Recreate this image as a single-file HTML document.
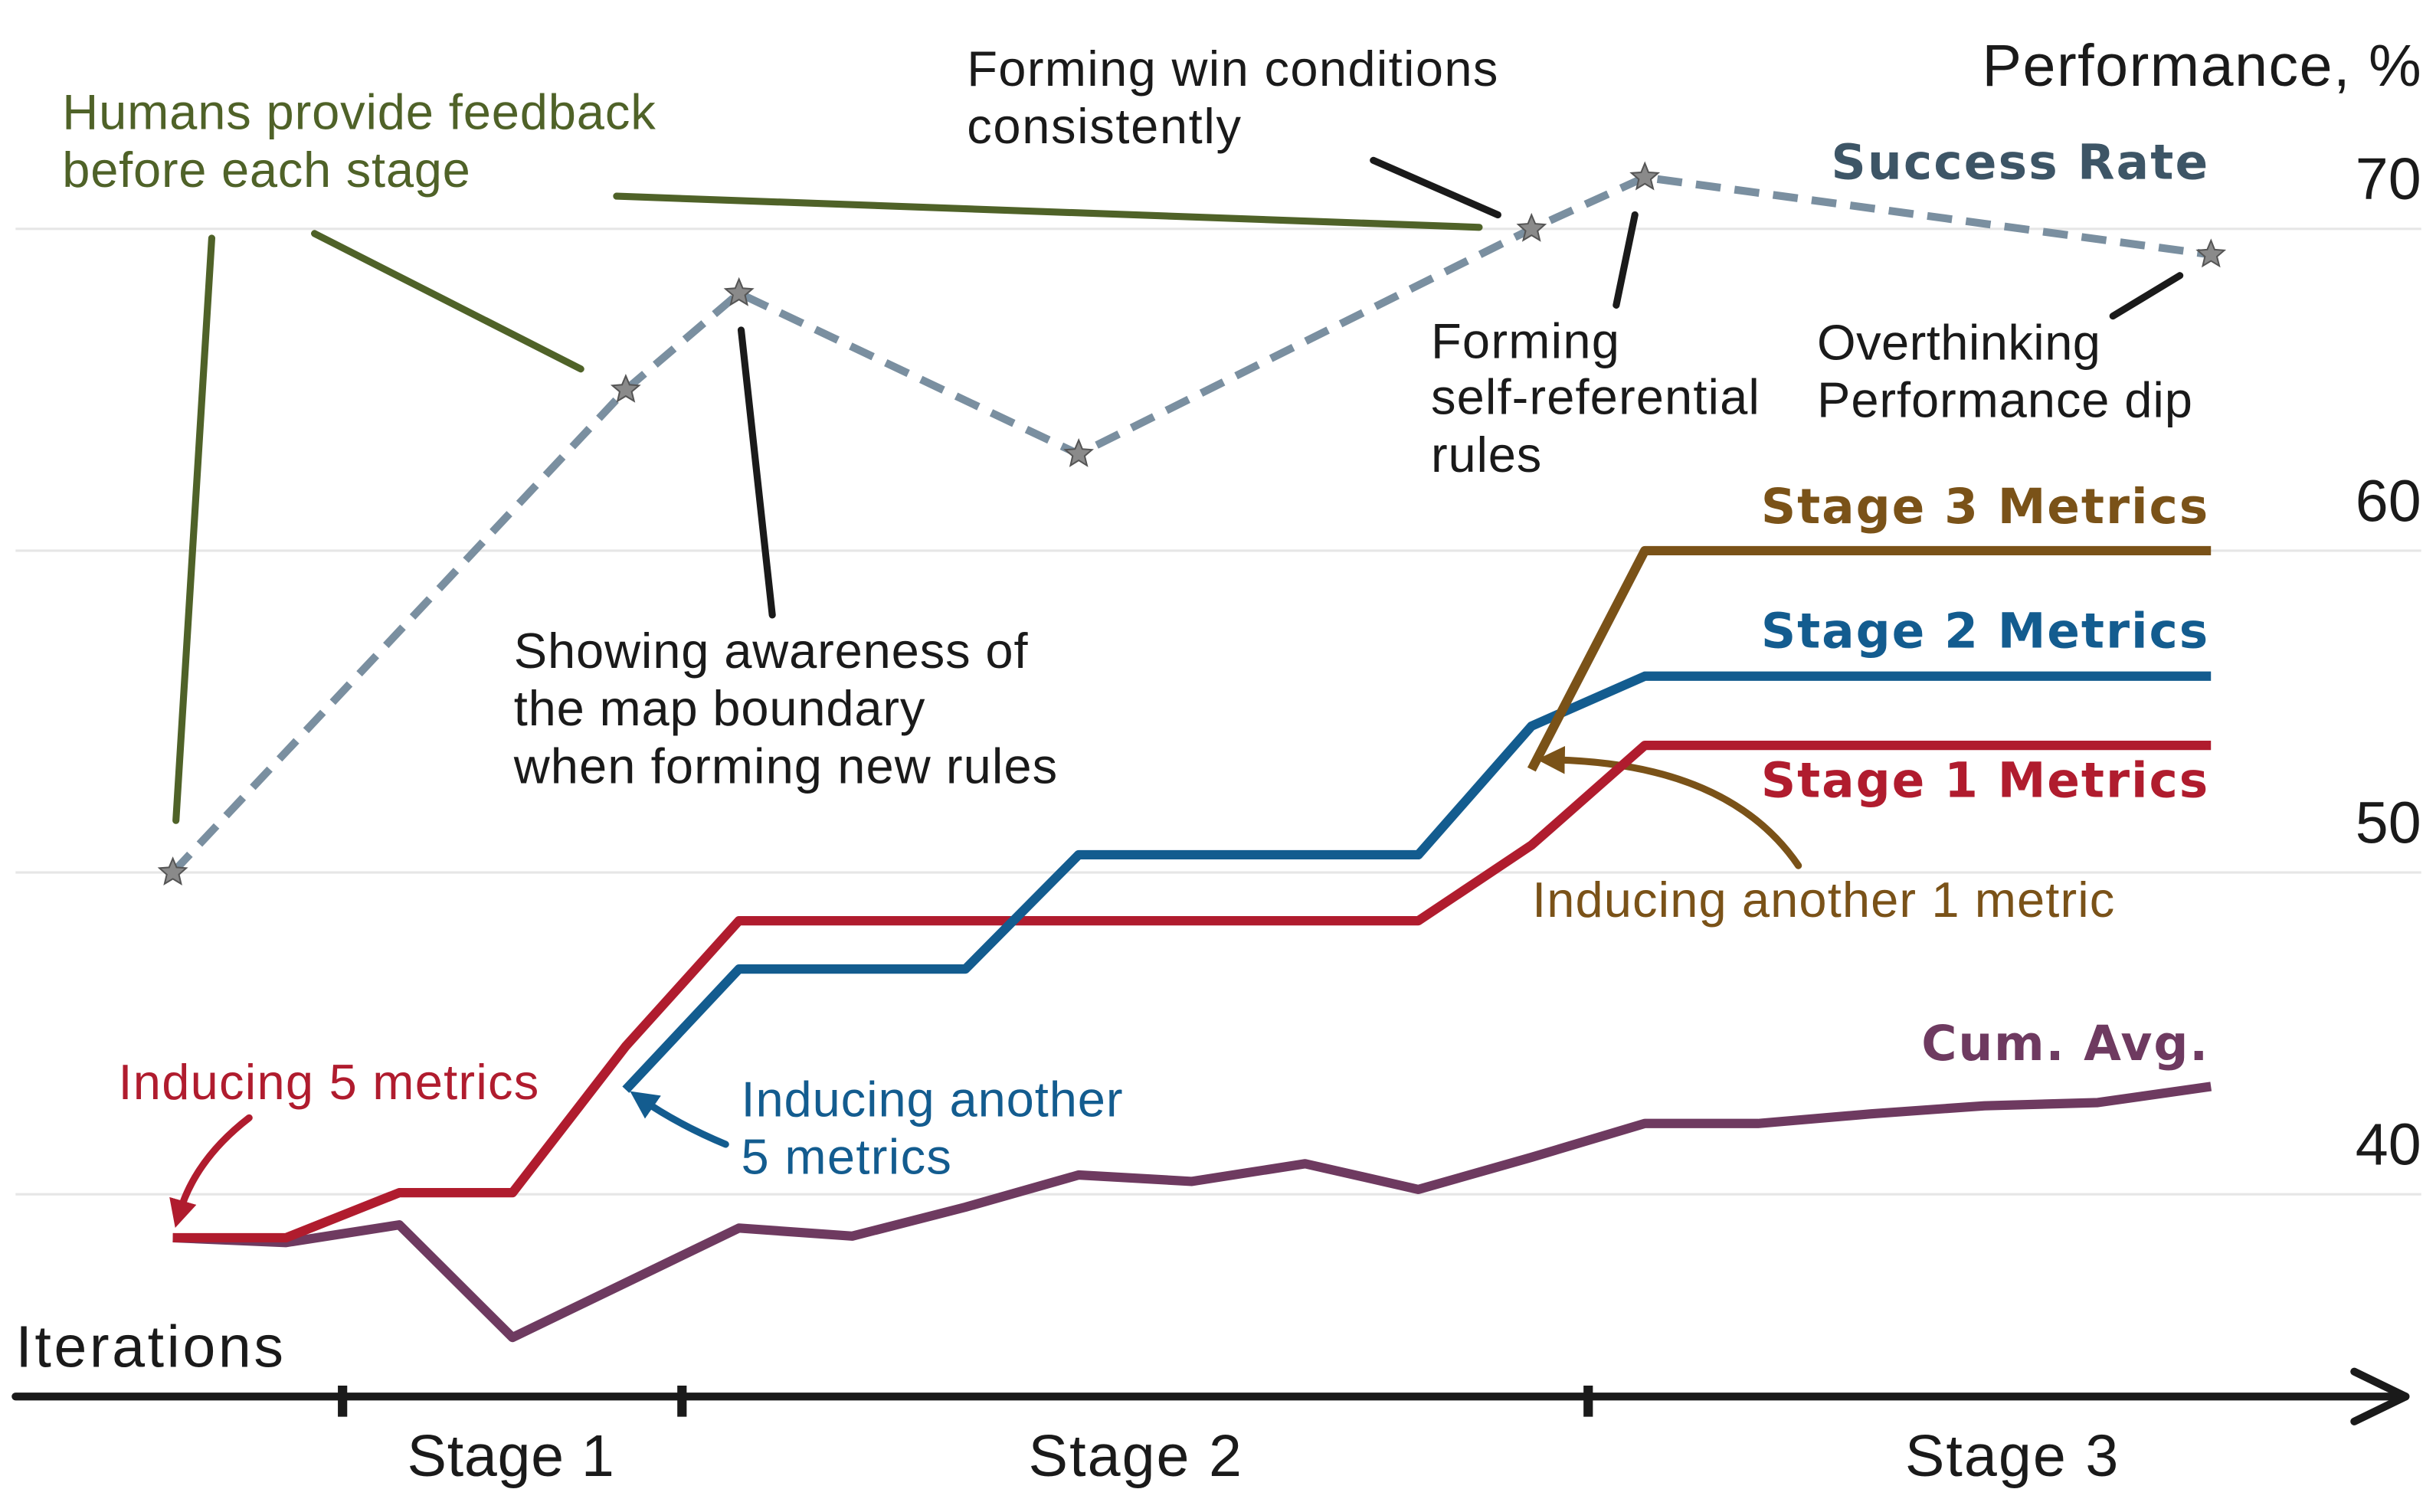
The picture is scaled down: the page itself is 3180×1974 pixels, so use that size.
<!DOCTYPE html>
<html><head><meta charset="utf-8">
<style>
html,body{margin:0;padding:0;background:#fff;}
svg{display:block;}
text{font-family:"Liberation Sans",sans-serif;}
.b{font-family:"DejaVu Sans","Liberation Sans",sans-serif;font-weight:bold;}
</style></head>
<body>
<svg id="chart" width="3180" height="1974" viewBox="0 0 3180 1974" xmlns="http://www.w3.org/2000/svg">
<defs>
<marker id="ar" viewBox="0 0 10 10" refX="5" refY="5" markerWidth="4" markerHeight="4" orient="auto-start-reverse"><path d="M0,0 L10,5 L0,10 z" fill="context-stroke"/></marker>
</defs>
<g id="root" transform="scale(2.0326)">
<g id="grid"></g>
<g id="yticks"></g>
<text x="1555" y="55" font-size="38" text-anchor="end" fill="#1a1a1a" textLength="282">Performance, %</text>
<text x="10" y="878" font-size="38" fill="#1a1a1a" textLength="172">Iterations</text>
<g>
<line x1="10" y1="897" x2="1545" y2="897" stroke="#1a1a1a" stroke-width="5" stroke-linecap="round"/>
<polyline points="1512,881 1545,897 1512,913" fill="none" stroke="#1a1a1a" stroke-width="5" stroke-linecap="round" stroke-linejoin="round"/>
<line x1="220" y1="890" x2="220" y2="910" stroke="#1a1a1a" stroke-width="6"/>
<line x1="438" y1="890" x2="438" y2="910" stroke="#1a1a1a" stroke-width="6"/>
<line x1="1020" y1="890" x2="1020" y2="910" stroke="#1a1a1a" stroke-width="6"/>
<text x="328" y="948" font-size="38" text-anchor="middle" fill="#1a1a1a" textLength="133">Stage 1</text>
<text x="729" y="948" font-size="38" text-anchor="middle" fill="#1a1a1a" textLength="137">Stage 2</text>
<text x="1292" y="948" font-size="38" text-anchor="middle" fill="#1a1a1a" textLength="137">Stage 3</text>
</g>
<g stroke-linecap="round">
<line x1="136" y1="153" x2="113" y2="527" stroke="#4f6228" stroke-width="4.5"/>
<line x1="202" y1="150" x2="373" y2="237" stroke="#4f6228" stroke-width="4.5"/>
<line x1="396" y1="126" x2="950" y2="146" stroke="#4f6228" stroke-width="4.5"/>
<line x1="476" y1="212" x2="496" y2="395" stroke="#1a1a1a" stroke-width="4.5"/>
<line x1="882" y1="103" x2="962" y2="138" stroke="#1a1a1a" stroke-width="4.5"/>
<line x1="1050" y1="138" x2="1038" y2="196" stroke="#1a1a1a" stroke-width="4.5"/>
<line x1="1357" y1="203" x2="1400" y2="177" stroke="#1a1a1a" stroke-width="4.5"/>
<path d="M160,718 Q125,745 115,780" fill="none" stroke="#b01c2e" stroke-width="4.5" marker-end="url(#ar)"/>
<path d="M466,735 Q435,722 412,706" fill="none" stroke="#135c8f" stroke-width="4.5" marker-end="url(#ar)"/>
<path d="M1155,556 Q1110,490 996,488" fill="none" stroke="#7a5218" stroke-width="4.5" marker-end="url(#ar)"/>
</g>
<g id="series"></g>
<g font-size="32">
<text x="40" y="83" fill="#4f6228" textLength="381">Humans provide feedback</text>
<text x="40" y="120" fill="#4f6228" textLength="262">before each stage</text>
<text x="621" y="55" fill="#1a1a1a" textLength="341">Forming win conditions</text>
<text x="621" y="92" fill="#1a1a1a" textLength="176">consistently</text>
<text x="919" y="230" fill="#1a1a1a" textLength="121">Forming</text>
<text x="919" y="266" fill="#1a1a1a" textLength="211">self-referential</text>
<text x="919" y="303" fill="#1a1a1a" textLength="71">rules</text>
<text x="1167" y="231" fill="#1a1a1a" textLength="182">Overthinking</text>
<text x="1167" y="268" fill="#1a1a1a" textLength="241">Performance dip</text>
<text x="330" y="429" fill="#1a1a1a" textLength="330">Showing awareness of</text>
<text x="330" y="466" fill="#1a1a1a" textLength="264">the map boundary</text>
<text x="330" y="503" fill="#1a1a1a" textLength="349">when forming new rules</text>
<text x="76" y="706" fill="#b01c2e" textLength="270">Inducing 5 metrics</text>
<text x="476" y="717" fill="#135c8f" textLength="245">Inducing another</text>
<text x="476" y="754" fill="#135c8f" textLength="135">5 metrics</text>
<text x="984" y="589" fill="#7a5218" textLength="374">Inducing another 1 metric</text>
</g>
<g font-size="31" text-anchor="end">
<text class="b" x="1418" y="115" fill="#3d5566" textLength="242">Success Rate</text>
<text class="b" x="1418" y="336" fill="#7a5218" textLength="287">Stage 3 Metrics</text>
<text class="b" x="1418" y="416" fill="#135c8f" textLength="287">Stage 2 Metrics</text>
<text class="b" x="1418" y="512" fill="#b01c2e" textLength="287">Stage 1 Metrics</text>
<text class="b" x="1418" y="681" fill="#6e3a60" textLength="184">Cum. Avg.</text>
</g>
</g>
</svg>
<script>
const yTicks = [40, 50, 60, 70];
const successIdx = [0, 4, 5, 8, 12, 13, 18];
const successVals = [50, 65, 68, 63, 70, 71.6, 69.2];
const stage1Idx = [0, 1, 2, 3, 4, 5, 11, 12, 13, 18];
const stage1Vals = [38.65, 38.65, 40.05, 40.05, 44.6, 48.5, 48.5, 50.85, 53.95, 53.95];
const stage2Idx = [4, 5, 7, 8, 11, 12, 13, 18];
const stage2Vals = [43.25, 47.0, 47.0, 50.55, 50.55, 54.55, 56.1, 56.1];
const stage3Idx = [12, 13, 18];
const stage3Vals = [53.2, 60, 60];
const cumVals = [38.65, 38.5, 39.05, 35.55, 37.25, 38.95, 38.7, 39.6, 40.6, 40.4, 40.95, 40.15, 41.15, 42.2, 42.2, 42.5, 42.75, 42.85, 43.35];

const NS = 'http://www.w3.org/2000/svg';
function xs(i){ return 111 + i * 72.72; }
function ys(v){ return 147 + (70 - v) * 20.67; }
const grid = document.getElementById('grid');
const yt = document.getElementById('yticks');
yTicks.forEach(t => {
  const l = document.createElementNS(NS, 'line');
  
  
  l.setAttribute('x1', 10); l.setAttribute('x2', 1555);
  l.setAttribute('y1', ys(t)); l.setAttribute('y2', ys(t));
  l.setAttribute('stroke', '#e6e6e6'); l.setAttribute('stroke-width', 1.5);
  grid.appendChild(l);
  const tx = document.createElementNS(NS, 'text');
  
  
  tx.setAttribute('x', 1555); tx.setAttribute('y', ys(t) - 19);
  tx.setAttribute('text-anchor', 'end'); tx.setAttribute('font-size', 38);
  tx.setAttribute('fill', '#1a1a1a');
  tx.textContent = t;
  yt.appendChild(tx);
});
const series = document.getElementById('series');
function line(idx, vals, color, name, dash){
  const p = document.createElementNS(NS, 'polyline');
  
  
  p.setAttribute('points', idx.map((i, k) => xs(i) + ',' + ys(vals[k])).join(' '));
  p.setAttribute('fill', 'none'); p.setAttribute('stroke', color);
  p.setAttribute('stroke-width', dash ? 5 : 6);
  p.setAttribute('stroke-linejoin', 'round');
  if (dash) p.setAttribute('stroke-dasharray', '16,9');
  series.appendChild(p);
}
line(cumVals.map((_, i) => i), cumVals, '#6e3a60', 'cum-avg-line');
line(stage1Idx, stage1Vals, '#b01c2e', 'stage-1-metrics-line');
line(stage2Idx, stage2Vals, '#135c8f', 'stage-2-metrics-line');
line(stage3Idx, stage3Vals, '#7a5218', 'stage-3-metrics-line');
line(successIdx, successVals, '#7a8fa0', 'success-rate-line', true);
function starPts(cx, cy, r){
  const pts = [];
  for (let k = 0; k < 10; k++){
    const a = -Math.PI / 2 + k * Math.PI / 5;
    const rr = k % 2 ? r * 0.45 : r;
    pts.push((cx + rr * Math.cos(a)).toFixed(1) + ',' + (cy + rr * Math.sin(a)).toFixed(1));
  }
  return pts.join(' ');
}
successIdx.forEach((i, k) => {
  const s = document.createElementNS(NS, 'polygon');
  
  
  s.setAttribute('points', starPts(xs(i), ys(successVals[k]), 9));
  s.setAttribute('fill', '#8a8a8a'); s.setAttribute('stroke', '#555'); s.setAttribute('stroke-width', 1);
  series.appendChild(s);
});
</script>
</body></html>
